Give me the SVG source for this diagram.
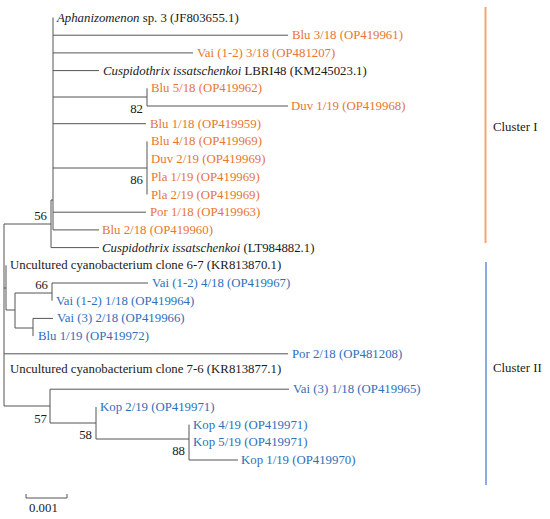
<svg xmlns="http://www.w3.org/2000/svg" width="550" height="519" viewBox="0 0 550 519">
<style>
text{font-family:"Liberation Serif","Times New Roman",serif;font-size:12.8px;fill:#1a1a1a}
.o{fill:#E8762F}
.b{fill:#2E6FBA}
.i{font-style:italic}
.br{stroke:#555;stroke-width:1;fill:none}
.bs{text-anchor:end}
</style>
<rect width="550" height="519" fill="#fff"/>
<g id="connectors" class="br">
<path d="M4 224V406"/>
<path d="M4 224H51M51 200V247.6M51 200H53M53 17.5V229.9"/>
<path d="M53 35.2H288M53 52.9H193M53 70.6H99"/>
<path d="M53 97H147M147 88.3V106M147 106H288"/>
<path d="M53 123.7H146"/>
<path d="M53 168H147M147 141.4V194.5"/>
<path d="M53 212.2H146M53 229.9H99M51 247.6H99"/>
<path d="M4 288H6M6 265.3V310M6 310H15M15 293V328M15 293H52M52 283V300.7M52 283H148"/>
<path d="M15 328H33M33 318.4V336.1M33 318.4H53"/>
<path d="M4 353.8H288"/>
<path d="M4 406H50M50 389.2V423M50 389.2H289M50 423H96M96 406.9V439M96 439H189M189 424.6V460M189 460H238"/>
</g>
<g id="cluster1">
<text x="57" y="21.5"><tspan class="i">Aphanizomenon</tspan> sp. 3 (JF803655.1)</text>
<text class="o" x="292" y="39.2">Blu 3/18 (OP419961)</text>
<text class="o" x="197" y="56.9">Vai (1-2) 3/18 (OP481207)</text>
<text x="103" y="74.6"><tspan class="i">Cuspidothrix issatschenkoi</tspan> LBRI48 (KM245023.1)</text>
<text class="o" x="151" y="92.3">Blu 5/18 (OP419962)</text>
<text class="o" x="291" y="110">Duv 1/19 (OP419968)</text>
<text class="o" x="150" y="127.7">Blu 1/18 (OP419959)</text>
<text class="o" x="151" y="145.4">Blu 4/18 (OP419969)</text>
<text class="o" x="151" y="163.1">Duv 2/19 (OP419969)</text>
<text class="o" x="151" y="180.8">Pla 1/19 (OP419969)</text>
<text class="o" x="151" y="198.5">Pla 2/19 (OP419969)</text>
<text class="o" x="150" y="216.2">Por 1/18 (OP419963)</text>
<text class="o" x="102" y="233.9">Blu 2/18 (OP419960)</text>
<text x="102" y="251.6"><tspan class="i">Cuspidothrix issatschenkoi</tspan> (LT984882.1)</text>
</g>
<g id="cluster2">
<text x="10" y="269">Uncultured cyanobacterium clone 6-7 (KR813870.1)</text>
<text class="b" x="152" y="287">Vai (1-2) 4/18 (OP419967)</text>
<text class="b" x="56" y="304.7">Vai (1-2) 1/18 (OP419964)</text>
<text class="b" x="57" y="322.4">Vai (3) 2/18 (OP419966)</text>
<text class="b" x="38" y="340.1">Blu 1/19 (OP419972)</text>
<text class="b" x="292" y="357.8">Por 2/18 (OP481208)</text>
<text x="10" y="372.5">Uncultured cyanobacterium clone 7-6 (KR813877.1)</text>
<text class="b" x="293" y="393.2">Vai (3) 1/18 (OP419965)</text>
<text class="b" x="100" y="410.9">Kop 2/19 (OP419971)</text>
<text class="b" x="193" y="428.6">Kop 4/19 (OP419971)</text>
<text class="b" x="193" y="446.3">Kop 5/19 (OP419971)</text>
<text class="b" x="241" y="464">Kop 1/19 (OP419970)</text>
</g>
<g id="bootstrap">
<text class="bs" x="143" y="113">82</text>
<text class="bs" x="143" y="184">86</text>
<text class="bs" x="47" y="220">56</text>
<text class="bs" x="48" y="289">66</text>
<text class="bs" x="47" y="423">57</text>
<text class="bs" x="92" y="439">58</text>
<text class="bs" x="185" y="455">88</text>
</g>
<g id="clusters">
<line x1="485.5" y1="7" x2="485.5" y2="243" stroke="#F2A574" stroke-width="2"/>
<text x="493" y="131">Cluster I</text>
<line x1="486" y1="262" x2="486" y2="485" stroke="#8FAADC" stroke-width="2"/>
<text x="493" y="372">Cluster II</text>
</g>
<g id="scale">
<path class="br" d="M26 494V498H67V494"/>
<text x="29" y="512">0.001</text>
</g>
</svg>
